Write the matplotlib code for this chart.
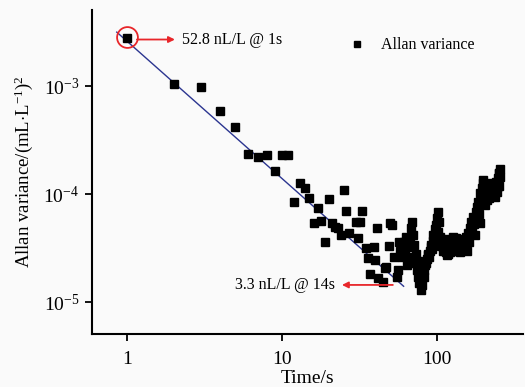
import numpy as np
import matplotlib
matplotlib.use("Agg")
import matplotlib.pyplot as plt
from matplotlib.ticker import FixedLocator, NullLocator

plt.rcParams['font.family'] = ['Liberation Serif', 'DejaVu Serif']
plt.rcParams['mathtext.fontset'] = 'custom'
plt.rcParams['mathtext.rm'] = 'Liberation Serif'
plt.rcParams['mathtext.it'] = 'Liberation Serif:italic'

# averaging time (s) and Allan variance ((mL/L)^2)
# sparse part, tau < 58 s
tau_low = [1, 2, 3, 4, 5, 6, 7, 8, 9, 10, 11, 12, 13, 14, 15, 16, 17, 18, 19,
           20, 21, 22, 23, 24, 25, 26, 27, 30, 31, 32, 33, 35, 36, 37, 39, 40,
           41, 42, 45, 46, 47, 49, 50, 51, 53, 55, 56, 57]
avar_low = [2.78e-3, 1.04e-3, 9.8e-4, 5.87e-4, 4.17e-4, 2.34e-4, 2.2e-4,
            2.3e-4, 1.63e-4, 2.3e-4, 2.3e-4, 8.4e-5, 1.26e-4, 1.14e-4, 9.2e-5,
            5.4e-5, 7.4e-5, 5.6e-5, 3.6e-5, 9.0e-5, 5.4e-5, 5.0e-5, 4.9e-5,
            4.2e-5, 1.09e-4, 7.0e-5, 4.4e-5, 5.5e-5, 3.9e-5, 5.5e-5, 7.0e-5,
            3.16e-5, 2.55e-5, 1.82e-5, 3.2e-5, 2.45e-5, 4.9e-5, 1.67e-5,
            1.53e-5, 2.07e-5, 2.1e-5, 3.3e-5, 5.4e-5, 5.2e-5, 2.6e-5, 1.7e-5,
            2.0e-5, 3.6e-5]

# dense part, tau >= 58 s
tau_high = [58, 60, 61, 62, 63, 64, 65, 66, 67, 68, 69, 70, 71, 72, 73, 74,
            75, 76, 77, 78, 79, 80, 81, 82, 83, 84, 85, 86, 87, 88, 89, 90, 91,
            92, 93, 94, 95, 96, 97, 98, 99, 100, 101, 102, 103, 104, 105, 106,
            108, 110, 112, 114, 115, 116, 118, 120, 122, 124, 125, 128, 130,
            132, 134, 136, 138, 140, 142, 144, 146, 148, 150, 152, 155, 156,
            158, 160, 163, 165, 168, 171, 173, 175, 178, 181, 184, 186, 189,
            190, 193, 195, 197, 199, 202, 205, 207, 210, 213, 216, 218, 220,
            224, 228, 230, 233, 237, 240, 243, 246, 248, 250, 252, 253, 255,
            256]
avar_high = [3.0e-5, 2.6e-5, 3.6e-5, 2.9e-5, 4.0e-5, 2.2e-5, 3.2e-5, 2.6e-5,
             3.8e-5, 4.8e-5, 5.5e-5, 4.2e-5, 3.4e-5, 2.3e-5, 2.8e-5, 2.0e-5,
             2.4e-5, 1.7e-5, 1.5e-5, 2.1e-5, 1.29e-5, 1.45e-5, 1.8e-5, 2.0e-5,
             1.7e-5, 2.2e-5, 2.3e-5, 2.5e-5, 2.7e-5, 2.8e-5, 2.6e-5, 3.0e-5,
             3.2e-5, 3.4e-5, 3.1e-5, 3.7e-5, 4.2e-5, 3.5e-5, 4.7e-5, 5.2e-5,
             4.3e-5, 6.0e-5, 6.8e-5, 4.5e-5, 5.5e-5, 4.0e-5, 3.5e-5, 3.3e-5,
             3.7e-5, 3.0e-5, 3.2e-5, 2.9e-5, 3.8e-5, 2.7e-5, 2.8e-5, 3.3e-5,
             2.9e-5, 3.6e-5, 3.2e-5, 4.0e-5, 3.0e-5, 3.9e-5, 3.5e-5, 3.3e-5,
             3.0e-5, 3.6e-5, 2.9e-5, 3.2e-5, 3.5e-5, 3.8e-5, 3.4e-5, 3.7e-5,
             4.0e-5, 3.0e-5, 4.4e-5, 3.6e-5, 4.8e-5, 5.5e-5, 4.5e-5, 6.1e-5,
             5.3e-5, 4.2e-5, 6.8e-5, 7.6e-5, 8.5e-5, 6.5e-5, 5.4e-5, 1.02e-4,
             9.5e-5, 1.15e-4, 1.26e-4, 1.35e-4, 1.05e-4, 8.0e-5, 1.2e-4,
             8.8e-5, 1.26e-4, 1.1e-4, 9.2e-5, 1.0e-4, 1.25e-4, 1.09e-4,
             1.16e-4, 1.0e-4, 9.4e-5, 1.3e-4, 1.17e-4, 1.05e-4, 1.4e-4,
             1.57e-4, 1.2e-4, 1.56e-4, 1.45e-4, 1.7e-4]

# fitted slope line (end points)
fit_tau = [0.86, 61]
fit_avar = [3.16e-3, 1.4e-5]

fig = plt.figure(figsize=(5.25, 3.87), dpi=100, facecolor='#fafafa')
ax = fig.add_axes([0.175, 0.137, 0.821, 0.837])
ax.set_facecolor('#fafafa')

ax.plot(fit_tau, fit_avar, color='#2b3590', lw=1.0, zorder=2)
ax.plot(tau_low + tau_high, avar_low + avar_high, 's', color='black',
        ms=5.3, zorder=3, label='Allan variance')

ax.set_xscale('log')
ax.set_yscale('log')
ax.set_xlim(0.594, 359)
ax.set_ylim(5.06e-6, 5.06e-3)

# red circle + arrows
red = '#e8262a'
ax.plot([1.0], [2.85e-3], 'o', ms=15, mfc='none', mec=red, mew=1.3, zorder=4)
ax.annotate('', xy=(2.04, 2.7e-3), xytext=(1.16, 2.7e-3),
            arrowprops=dict(arrowstyle='-|>', color=red, lw=1.3,
                            mutation_scale=9, shrinkA=0, shrinkB=0))
ax.text(2.26, 2.7e-3, '52.8 nL/L @ 1s', fontsize=11.5, va='center', ha='left')

ax.annotate('', xy=(24.4, 1.44e-5), xytext=(52, 1.44e-5),
            arrowprops=dict(arrowstyle='-|>', color=red, lw=1.3,
                            mutation_scale=9, shrinkA=0, shrinkB=0))
ax.text(22, 1.44e-5, '3.3 nL/L @ 14s', fontsize=11.5, va='center', ha='right')

ax.legend(loc='upper right', bbox_to_anchor=(0.92, 0.96), frameon=False,
          fontsize=11.5, handletextpad=0.5, markerscale=0.8)

ax.xaxis.set_major_locator(FixedLocator([1, 10, 100]))
ax.xaxis.set_minor_locator(NullLocator())
ax.set_xticklabels(['1', '10', '100'])
ax.yaxis.set_major_locator(FixedLocator([1e-5, 1e-4, 1e-3]))
ax.yaxis.set_minor_locator(NullLocator())
ax.set_yticklabels(['$10^{-5}$', '$10^{-4}$', '$10^{-3}$'])
ax.tick_params(direction='out', length=5, width=1.3, labelsize=14, pad=4)
ax.tick_params(axis='x', pad=7)

for s in ['top', 'right']:
    ax.spines[s].set_visible(False)
for s in ['left', 'bottom']:
    ax.spines[s].set_linewidth(1.5)

ax.set_xlabel('Time/s', fontsize=14, labelpad=2)
ax.set_ylabel('Allan variance/(mL$\\cdot$L$^{-1}$)$^2$', fontsize=13.5, labelpad=6)

fig.savefig('out.png', dpi=100, facecolor=fig.get_facecolor())
